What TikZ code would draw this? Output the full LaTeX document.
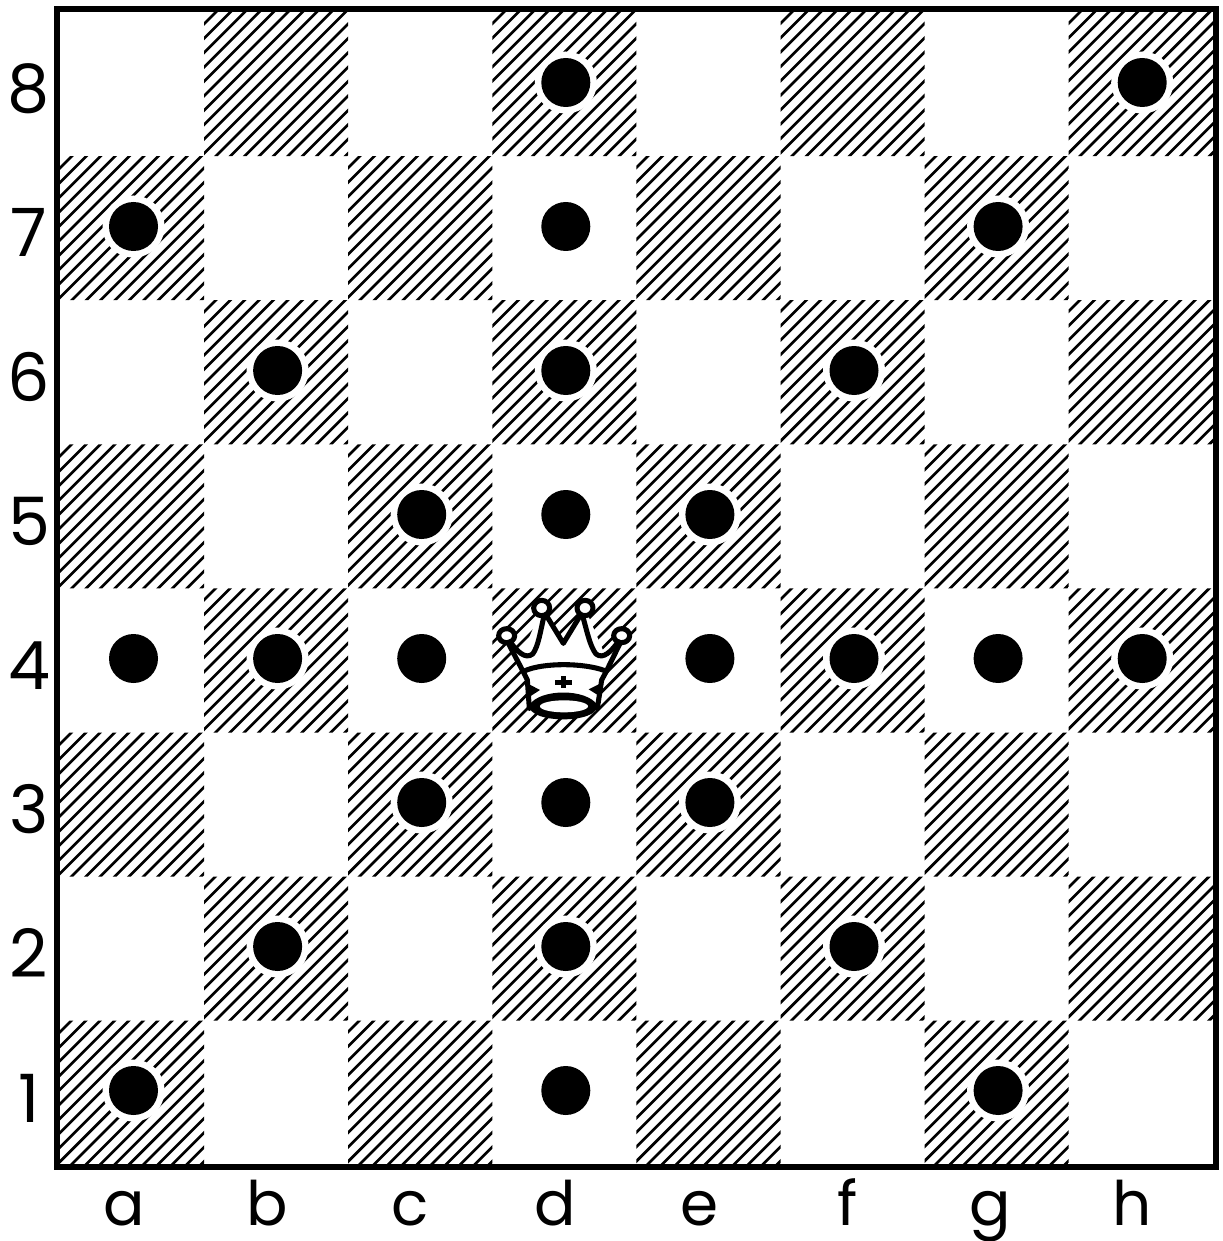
\documentclass[tikz,border=0pt]{standalone}
\usepackage{fontspec}
\setmainfont{Poppins}
\tikzset{
  halo/.style={circle,fill=white,inner sep=0pt,minimum size=62*0.75pt},
  dotmark/.style={circle,fill=black,inner sep=0pt,minimum size=49*0.75pt},
  ranklabel/.style={anchor=base,inner sep=0pt,font=\fontsize{50}{50}\selectfont},
  filelabel/.style={anchor=base,inner sep=0pt,font=\fontsize{46}{46}\selectfont},
  hatchline/.style={line width=2.0pt,black},
  crownline/.style={line width=3.8pt,black,line join=round,line cap=round},
}
\begin{document}
\begin{tikzpicture}[x=0.75pt,y=-0.75pt]
\useasboundingbox (0,0) rectangle (1222,1241);
\fill[white] (0,0) rectangle (1222,1241);
% hatched squares
\begin{scope}
  \clip
  \foreach \i in {0,...,7}{\foreach \j in {0,...,7}{
    \pgfextra{\pgfmathparse{int(mod(\i+\j,2))}\global\let\odd\pgfmathresult}
    \ifnum\odd=1 ({60+144.1*\i},{12+144.1*\j}) rectangle +(144.1,144.1) \fi
  }};
  \foreach \k in {4,...,170}{
    \draw[hatchline] (0,{12+14.4*\k}) -- ({12+14.4*\k},0);
  }
\end{scope}
% dots
\foreach \f/\r in {0/1,0/4,0/7,1/2,1/4,1/6,2/3,2/4,2/5,3/0,3/1,3/2,3/3,3/5,3/6,3/7,4/3,4/4,4/5,5/2,5/4,5/6,6/1,6/4,6/7,7/0,7/4}{
  \node[halo] (halo-\f-\r) at ({133.5+144.1*\f},{82.5+144*\r}) {};
  \node[dotmark] (dot-\f-\r) at (halo-\f-\r.center) {};
}
% queen
\begin{scope}[shift={(480,580)},x=0.25pt,y=-0.25pt]
  \fill[white] (80,168) -- (125,225) -- (185,85) -- (250,190) -- (315,85) -- (375,225) -- (425,168) -- (375,280) -- (345,395) -- (250,410) -- (155,395) -- (130,280) -- cycle;
  \draw[crownline,fill=white] (185,84) ellipse (24 and 23);
  \draw[crownline,fill=white] (315,84) ellipse (24 and 23);
  \draw[crownline,fill=white] (80,167) ellipse (24 and 21);
  \draw[crownline,fill=white] (425,167) ellipse (24 and 21);
  \draw[crownline] (85,190) -- (128,272) -- (142,300) -- (148,385);
  \draw[crownline] (420,190) -- (380,272) -- (365,300) -- (352,385);
  \draw[crownline] (90,185) .. controls (110,212) and (135,240) .. (158,222) .. controls (175,200) and (182,150) .. (192,108);
  \draw[crownline] (200,108) -- (250,190) -- (300,108);
  \draw[crownline] (308,108) .. controls (320,150) and (330,200) .. (348,222) .. controls (370,240) and (395,212) .. (415,185);
  \draw[crownline] (135,272) .. controls (190,248) and (310,248) .. (375,272);
  \fill (148,375) .. controls (180,325) and (320,325) .. (352,375) .. controls (355,405) and (300,418) .. (250,418) .. controls (200,418) and (145,405) .. (148,375) -- cycle;
  \fill[white] (252,379) ellipse (72 and 18);
  \fill (225,299) rectangle (275,314);
  \fill (243,288) rectangle (257,324);
  \fill (142,310) -- (180,330) -- (146,352) -- cycle;
  \fill (362,310) -- (326,328) -- (358,348) -- cycle;
\end{scope}
% frame
\draw[line width=4.3pt,black,line join=miter] (57,9) rectangle (1216,1167);
% labels
\foreach \t/\y in {8/113,7/257,6/401,5/545,4/689,3/833,2/977,1/1122}{
  \node[ranklabel] (rank-\t) at (29,\y) {\t};
}
\foreach \t/\x in {a/124,b/267,c/410,d/555,e/700,f/848,g/990,h/1132}{
  \node[filelabel] (file-\t) at (\x,1225) {\t};
}
\end{tikzpicture}
\end{document}
